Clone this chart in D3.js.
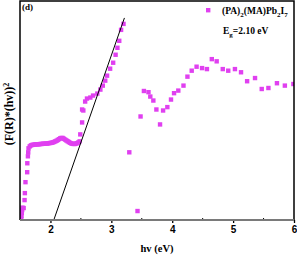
<!DOCTYPE html>
<html>
<head>
<meta charset="utf-8">
<script src="https://cdn.jsdelivr.net/npm/d3@7"></script>
<style>
  body { margin: 0; background: #fff; }
  svg { display: block; }
</style>
</head>
<body>
<div class="chart"></div>
<script>
let width = 297;
let height = 256;

// measured points, hv (eV) vs (F(R)*hv)^2 in arbitrary units
let hv = [1.52, 1.525, 1.53, 1.535, 1.54, 1.56, 1.575, 1.58, 1.59, 1.618, 1.62, 1.63, 1.635,
  1.64, 1.66, 1.68, 1.70, 1.72, 1.74, 1.76, 1.78, 1.80, 1.82, 1.84, 1.86, 1.88, 1.90, 1.92,
  1.94, 1.96, 1.98, 2.00, 2.02, 2.04, 2.06, 2.08, 2.10, 2.12, 2.14, 2.16, 2.18, 2.20, 2.22,
  2.24, 2.26, 2.28, 2.30, 2.32, 2.34, 2.36, 2.38, 2.40, 2.42, 2.44, 2.46, 2.48,
  2.49, 2.52, 2.52, 2.54, 2.57, 2.60, 2.655, 2.70, 2.77, 2.82, 2.86, 2.90, 2.93, 2.98,
  3.03, 3.07, 3.10, 3.13, 3.16, 3.20,
  3.295, 3.43, 3.48, 3.535, 3.61, 3.64, 3.69, 3.74, 3.80, 3.85, 3.92, 3.98, 4.03, 4.10,
  4.185, 4.25, 4.32, 4.40, 4.49, 4.57, 4.65, 4.73, 4.83, 4.92, 5.03, 5.13, 5.23, 5.36,
  5.47, 5.58, 5.72, 5.85, 5.99];
let absorb = [0.05, 0.2, 0.35, 0.5, 0.62, 0.6, 1.0, 1.35, 1.9, 2.4, 2.85, 3.2, 3.4,
  3.6, 3.7, 3.75, 3.77, 3.78, 3.79, 3.8, 3.8, 3.8, 3.81, 3.82, 3.82, 3.83, 3.83, 3.84,
  3.84, 3.85, 3.86, 3.87, 3.88, 3.9, 3.92, 3.95, 3.98, 4.02, 4.06, 4.1, 4.12, 4.12, 4.08,
  4.04, 4.0, 3.96, 3.92, 3.88, 3.85, 3.83, 3.82, 3.82, 3.84, 3.86, 3.9, 3.95,
  4.3, 4.9, 5.55, 5.5, 5.95, 6.1, 6.15, 6.25, 6.35, 6.55, 6.75, 7.0, 7.25, 7.6,
  7.9, 8.3, 8.65, 9.0, 9.55, 9.85,
  3.4, 0.45, 5.2, 6.48, 6.42, 6.2, 6.0, 5.55, 4.8, 5.5, 5.67, 6.05, 6.37, 6.5,
  6.75, 7.2, 7.5, 7.7, 7.63, 7.58, 8.08, 7.97, 7.58, 7.5, 7.58, 7.42, 6.97, 7.13,
  6.58, 6.63, 6.87, 6.75, 6.83];
// Tauc fit line end points
let fitHv = [2.055, 3.215];
let fitVal = [0, 10.15];
let xTicks = [2, 3, 4, 5, 6];
let xMinor = [2.5, 3.5, 4.5, 5.5];

let mLeft = 20, mRight = 294, mTop = 1, mBottom = 220;

let svg = d3.select('.chart')
  .append('svg')
  .attr('width', width)
  .attr('height', height);

let xScale = d3.scaleLinear().domain([1.5, 6]).range([mLeft, mRight]);
let yScale = d3.scaleLinear().domain([0, 11]).range([mBottom, mTop]);

let points = hv.map((d, i) => ({x: d, y: absorb[i]}));

svg.append('defs').append('clipPath').attr('id', 'clip')
  .append('rect').attr('x', mLeft).attr('y', mTop)
  .attr('width', mRight - mLeft).attr('height', mBottom - mTop);

svg.append('g').attr('clip-path', 'url(#clip)')
  .selectAll('rect')
  .data(points)
  .enter()
  .append('rect')
  .attr('x', d => xScale(d.x) - 2.2)
  .attr('y', d => yScale(d.y) - 2.2)
  .attr('width', 4.4)
  .attr('height', 4.4)
  .attr('fill', '#e040f0');

svg.append('line')
  .attr('x1', xScale(fitHv[0])).attr('y1', yScale(fitVal[0]))
  .attr('x2', xScale(fitHv[1])).attr('y2', yScale(fitVal[1]))
  .attr('stroke', '#000')
  .attr('stroke-width', 1);

// frame
svg.append('path')
  .attr('d', 'M' + mLeft + ',' + mBottom + 'V' + mTop + 'H' + mRight + 'V' + mBottom)
  .attr('fill', 'none')
  .attr('stroke', '#000')
  .attr('stroke-width', 1.5);

let xAxis = d3.axisBottom(xScale)
  .tickValues(xTicks)
  .tickSize(3)
  .tickPadding(3)
  .tickFormat(d3.format('d'));

let gx = svg.append('g')
  .attr('transform', 'translate(0,' + mBottom + ')')
  .call(xAxis);
gx.select('.domain').remove();
gx.selectAll('.tick line').attr('stroke', '#000').attr('stroke-width', 1.3);
gx.selectAll('.tick text')
  .style('font-family', 'Liberation Sans, Arial, sans-serif')
  .style('font-weight', 'bold')
  .style('font-size', '10px');

gx.selectAll('.minor')
  .data(xMinor)
  .enter()
  .append('line')
  .attr('x1', d => xScale(d)).attr('x2', d => xScale(d))
  .attr('y1', -2).attr('y2', 0)
  .attr('stroke', '#000');

svg.append('line')
  .attr('x1', mLeft).attr('x2', mRight)
  .attr('y1', mBottom).attr('y2', mBottom)
  .attr('stroke', '#7a7a7a')
  .attr('stroke-width', 1.8);

let serif = 'Liberation Serif, Times New Roman, serif';

svg.append('text')
  .attr('x', 157)
  .attr('y', 252)
  .attr('text-anchor', 'middle')
  .style('font-family', serif)
  .style('font-weight', 'bold')
  .style('font-size', '10.5px')
  .text('hv (eV)');

let yl = svg.append('text')
  .attr('transform', 'translate(13,' + 114 + ') rotate(-90)')
  .attr('text-anchor', 'middle')
  .style('font-family', serif)
  .style('font-weight', 'bold')
  .style('font-size', '12px');
yl.append('tspan').text('(F(R)*(hv))');
yl.append('tspan').attr('dy', -4.5).style('font-size', '8px').text('2');

svg.append('text')
  .attr('x', 22)
  .attr('y', 10)
  .style('font-family', serif)
  .style('font-weight', 'bold')
  .style('font-size', '9px')
  .text('(d)');

// legend
svg.append('rect')
  .attr('x', 206).attr('y', 8)
  .attr('width', 4.4).attr('height', 4.4)
  .attr('fill', '#e040f0');

let lg = svg.append('text')
  .attr('x', 222)
  .attr('y', 14)
  .style('font-family', serif)
  .style('font-weight', 'bold')
  .style('font-size', '9.5px');
let parts = [['(PA)', 0], ['2', 1], ['(MA)Pb', 0], ['2', 1], ['I', 0], ['7', 1]];
let shift = 0;
parts.forEach(p => {
  let dy = p[1] ? 3 - shift : -shift;
  shift = p[1] ? 3 : 0;
  lg.append('tspan').attr('dy', dy).style('font-size', p[1] ? '7px' : '9.5px').text(p[0]);
});

let eg = svg.append('text')
  .attr('x', 223)
  .attr('y', 34)
  .style('font-family', serif)
  .style('font-weight', 'bold')
  .style('font-size', '9.5px');
eg.append('tspan').text('E');
eg.append('tspan').attr('dy', 3).style('font-size', '7px').text('g');
eg.append('tspan').attr('dy', -3).text('=2.10 eV');
</script>
</body>
</html>
